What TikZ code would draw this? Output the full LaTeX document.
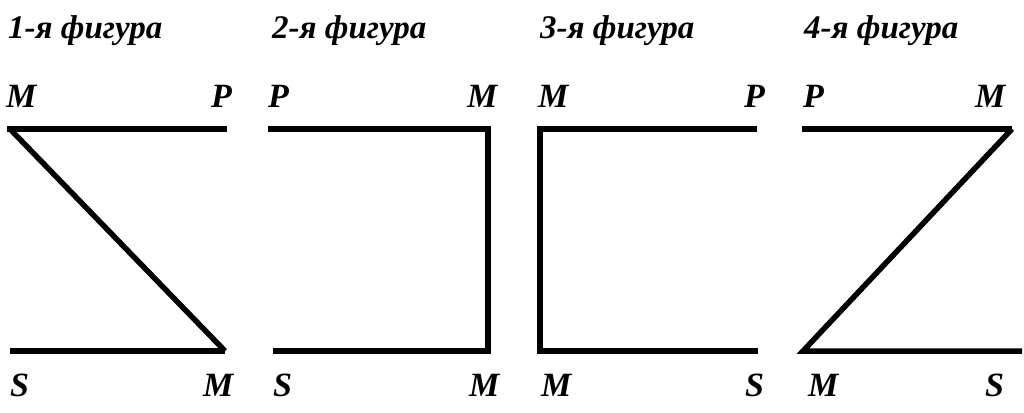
\documentclass[tikz,border=0pt]{standalone}
\usepackage{fontspec}
\setmainfont{Liberation Serif}
\begin{document}
\begin{tikzpicture}[x=1pt,y=-1pt,
  fig/.style={line width=5.5pt,line cap=butt,line join=miter},
  ttl/.style={font=\fontsize{33}{33}\selectfont\bfseries\itshape,anchor=base west,inner sep=0pt},
  lbl/.style={font=\fontsize{34}{34}\selectfont\bfseries\itshape,anchor=base west,inner sep=0pt}]
\useasboundingbox (0,0) rectangle (1024,412);
% titles
\node[ttl] (t1) at (8,39) {1-я фигура};
\node[ttl] (t2) at (272,39) {2-я фигура};
\node[ttl] (t3) at (540,39) {3-я фигура};
\node[ttl] (t4) at (804,39) {4-я фигура};
% top labels
\node[lbl] (l1a) at (6,107) {M};
\node[lbl] (l1b) at (211,107) {P};
\node[lbl] (l2a) at (268,107) {P};
\node[lbl] (l2b) at (467,107) {M};
\node[lbl] (l3a) at (538,107) {M};
\node[lbl] (l3b) at (744,107) {P};
\node[lbl] (l4a) at (803,107) {P};
\node[lbl] (l4b) at (975,107) {M};
% bottom labels
\node[lbl] (b1a) at (10,396) {S};
\node[lbl] (b1b) at (203,396) {M};
\node[lbl] (b2a) at (273,396) {S};
\node[lbl] (b2b) at (469,396) {M};
\node[lbl] (b3a) at (541,396) {M};
\node[lbl] (b3b) at (745,396) {S};
\node[lbl] (b4a) at (808,396) {M};
\node[lbl] (b4b) at (985,396) {S};
% figure 1
\coordinate (f1tl) at (7,129); \coordinate (f1tr) at (227,129);
\coordinate (f1bl) at (10,351); \coordinate (f1br) at (225,351);
\draw[fig] (f1tl) -- (f1tr);
\draw[fig] (f1bl) -- (f1br);
\draw[fig] (f1tl) ++(3,0) -- (f1br);
% figure 2
\coordinate (f2tl) at (268,129); \coordinate (f2tr) at (488,129);
\coordinate (f2bl) at (273,351); \coordinate (f2br) at (488,351);
\draw[fig] (f2tl) -- (f2tr) -- (f2br) -- (f2bl);
% figure 3
\coordinate (f3tl) at (540,129); \coordinate (f3tr) at (757,129);
\coordinate (f3bl) at (540,351); \coordinate (f3br) at (758,351);
\draw[fig] (f3tr) -- (f3tl) -- (f3bl) -- (f3br);
% figure 4
\coordinate (f4tl) at (802,129); \coordinate (f4tr) at (1012,129);
\coordinate (f4bl) at (803,351); \coordinate (f4br) at (1022,351);
\draw[fig] (f4tl) -- (f4tr);
\draw[fig] (f4tr) -- (f4bl) -- (f4br);
\end{tikzpicture}
\end{document}
